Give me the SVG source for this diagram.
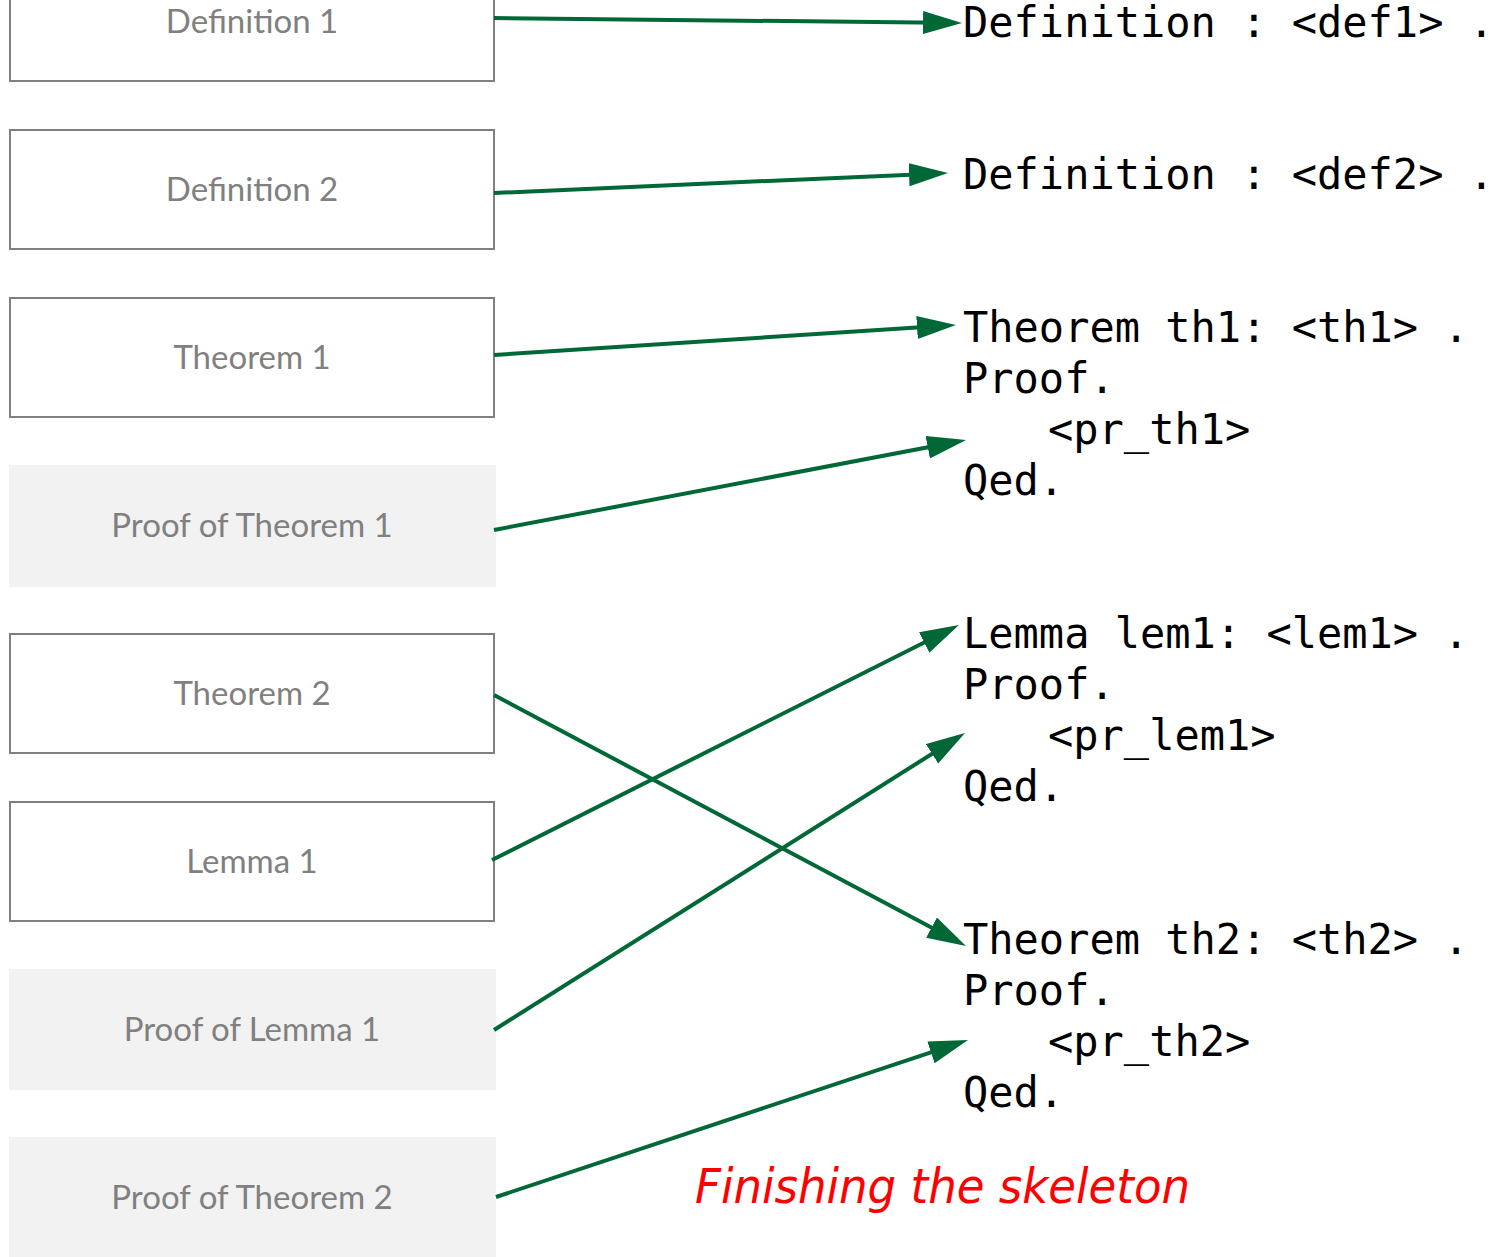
<svg xmlns="http://www.w3.org/2000/svg" width="1500" height="1257" viewBox="0 0 1500 1257">
<style>
.box{fill:#ffffff;stroke:#808080;stroke-width:2}
.pbox{fill:#f2f2f2;stroke:none}
.lbl{font-family:Lato,"Liberation Sans",sans-serif;font-size:33px;fill:#808080;text-anchor:middle}
.code{font-family:"DejaVu Sans Mono","Liberation Mono",monospace;font-size:42px;fill:#000000;white-space:pre}
.conn{stroke:#006837;stroke-width:4;fill:none;marker-end:url(#ah)}
.note{font-family:"DejaVu Sans","Liberation Sans",sans-serif;font-style:italic;font-size:48px;fill:#ff0000}
</style>
<defs>
<marker id="ah" markerUnits="userSpaceOnUse" markerWidth="40" markerHeight="24" refX="19" refY="11.5" orient="auto">
<path d="M0,0 L39,11.5 L0,23 z" fill="#006837"/>
</marker>
</defs>
<rect width="1500" height="1257" fill="#ffffff"/>
<g id="def1"><rect class="box" x="10" y="-38" width="484" height="119"/><text class="lbl" x="252" y="33">Definition 1</text></g>
<g id="def2"><rect class="box" x="10" y="130" width="484" height="119"/><text class="lbl" x="252" y="201">Definition 2</text></g>
<g id="th1"><rect class="box" x="10" y="298" width="484" height="119"/><text class="lbl" x="252" y="369">Theorem 1</text></g>
<g id="prth1"><rect class="pbox" x="9" y="465" width="487" height="122"/><text class="lbl" x="252" y="537">Proof of Theorem 1</text></g>
<g id="th2"><rect class="box" x="10" y="634" width="484" height="119"/><text class="lbl" x="252" y="705">Theorem 2</text></g>
<g id="lem1"><rect class="box" x="10" y="802" width="484" height="119"/><text class="lbl" x="252" y="873">Lemma 1</text></g>
<g id="prlem1"><rect class="pbox" x="9" y="969" width="487" height="121"/><text class="lbl" x="252" y="1041">Proof of Lemma 1</text></g>
<g id="prth2"><rect class="pbox" x="9" y="1137" width="487" height="121"/><text class="lbl" x="252" y="1209">Proof of Theorem 2</text></g>
<g id="code">
<text class="code" x="963" y="37">Definition : &lt;def1&gt; .</text>
<text class="code" x="963" y="189">Definition : &lt;def2&gt; .</text>
<text class="code" x="963" y="342">Theorem th1: &lt;th1&gt; .</text>
<text class="code" x="963" y="393">Proof.</text>
<text class="code" x="1048" y="444">&lt;pr_th1&gt;</text>
<text class="code" x="963" y="495">Qed.</text>
<text class="code" x="963" y="648">Lemma lem1: &lt;lem1&gt; .</text>
<text class="code" x="963" y="699">Proof.</text>
<text class="code" x="1048" y="750">&lt;pr_lem1&gt;</text>
<text class="code" x="963" y="801">Qed.</text>
<text class="code" x="963" y="954">Theorem th2: &lt;th2&gt; .</text>
<text class="code" x="963" y="1005">Proof.</text>
<text class="code" x="1048" y="1056">&lt;pr_th2&gt;</text>
<text class="code" x="963" y="1107">Qed.</text>
</g>
<g id="connectors">
<line class="conn" x1="494" y1="18" x2="942" y2="22.8"/>
<line class="conn" x1="494" y1="193" x2="928" y2="173.9"/>
<line class="conn" x1="494" y1="355" x2="936" y2="326.3"/>
<line class="conn" x1="494" y1="530" x2="946.4" y2="443.7"/>
<line class="conn" x1="494" y1="695" x2="948.3" y2="936.6"/>
<line class="conn" x1="492" y1="860" x2="941.1" y2="634"/>
<line class="conn" x1="494" y1="1030" x2="948.1" y2="743.7"/>
<line class="conn" x1="496" y1="1197" x2="949" y2="1046.3"/>
</g>
<text id="caption" class="note" x="695" y="1203" textLength="495" lengthAdjust="spacingAndGlyphs">Finishing the skeleton</text>
</svg>
